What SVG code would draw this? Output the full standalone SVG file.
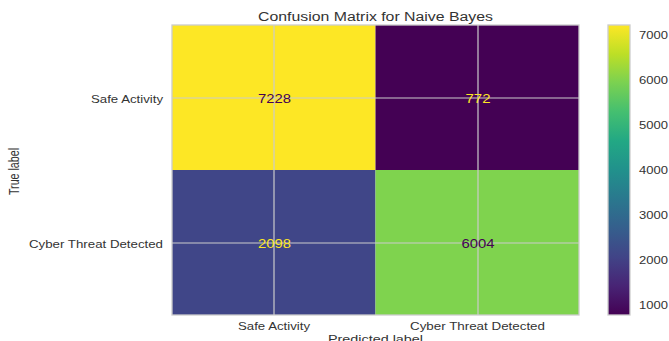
<svg xmlns="http://www.w3.org/2000/svg" width="669" height="341" viewBox="0 0 669 341">
  <style>
    text { font-family: "Liberation Sans", Arial, sans-serif; fill: #333333; }
    .tick { font-size: 10.5px; }
    .axis { font-size: 11.5px; }
    .title { font-size: 12.5px; }
    .val { font-size: 12.5px; text-anchor: middle; }
    .dark { fill: #440154; }
    .light { fill: #fde725; }
    .grid { stroke: #cccccc; stroke-width: 1.2; }
    .frame { fill: none; stroke: #cccccc; stroke-width: 1.3; }
  </style>
  <defs>
    <linearGradient id="viridis" x1="0" y1="1" x2="0" y2="0">
      <stop offset="0" stop-color="#440154"/>
      <stop offset="0.1" stop-color="#482475"/>
      <stop offset="0.2" stop-color="#414487"/>
      <stop offset="0.3" stop-color="#355f8d"/>
      <stop offset="0.4" stop-color="#2a788e"/>
      <stop offset="0.5" stop-color="#21918c"/>
      <stop offset="0.6" stop-color="#22a884"/>
      <stop offset="0.7" stop-color="#44bf70"/>
      <stop offset="0.8" stop-color="#7ad151"/>
      <stop offset="0.9" stop-color="#bddf26"/>
      <stop offset="1" stop-color="#fde725"/>
    </linearGradient>
  </defs>

  <rect width="669" height="341" fill="#ffffff"/>

  <!-- title -->
  <text class="title" x="375.5" y="21" text-anchor="middle" textLength="235" lengthAdjust="spacingAndGlyphs">Confusion Matrix for Naive Bayes</text>

  <!-- matrix cells -->
  <g id="cell-tn">
    <rect x="172" y="25" width="203.5" height="145" fill="#fde725"/>
  </g>
  <g id="cell-fp">
    <rect x="375.5" y="25" width="203.5" height="145" fill="#440154"/>
  </g>
  <g id="cell-fn">
    <rect x="172" y="170" width="203.5" height="145" fill="#404688"/>
  </g>
  <g id="cell-tp">
    <rect x="375.5" y="170" width="203.5" height="145" fill="#7fd34e"/>
  </g>

  <!-- grid lines -->
  <g id="grid">
    <line class="grid" x1="274" y1="25" x2="274" y2="315"/>
    <line class="grid" x1="478" y1="25" x2="478" y2="315"/>
    <line class="grid" x1="172" y1="98" x2="579" y2="98"/>
    <line class="grid" x1="172" y1="243" x2="579" y2="243"/>
  </g>
  <rect class="frame" x="172" y="25" width="407" height="290"/>

  <!-- cell values -->
  <g id="values">
    <text class="val dark" x="274.5" y="102.5" textLength="33" lengthAdjust="spacingAndGlyphs">7228</text>
    <text class="val light" x="478" y="102.5" textLength="25" lengthAdjust="spacingAndGlyphs">772</text>
    <text class="val light" x="274.5" y="247.5" textLength="33" lengthAdjust="spacingAndGlyphs">2098</text>
    <text class="val dark" x="478" y="247.5" textLength="33" lengthAdjust="spacingAndGlyphs">6004</text>
  </g>

  <!-- y axis -->
  <text class="tick" x="163" y="102.5" text-anchor="end" textLength="72" lengthAdjust="spacingAndGlyphs">Safe Activity</text>
  <text class="tick" x="163" y="247.5" text-anchor="end" textLength="134" lengthAdjust="spacingAndGlyphs">Cyber Threat Detected</text>
  <text class="axis" transform="translate(18.5,171.5) scale(1.25,1) rotate(-90)" text-anchor="middle" textLength="47" lengthAdjust="spacingAndGlyphs">True label</text>

  <!-- x axis -->
  <text class="tick" x="274" y="330" text-anchor="middle" textLength="72" lengthAdjust="spacingAndGlyphs">Safe Activity</text>
  <text class="tick" x="477.5" y="330" text-anchor="middle" textLength="135" lengthAdjust="spacingAndGlyphs">Cyber Threat Detected</text>
  <text class="axis" x="375.5" y="343" text-anchor="middle" textLength="95" lengthAdjust="spacingAndGlyphs">Predicted label</text>

  <!-- colour bar -->
  <g id="colorbar">
    <rect x="608" y="25" width="22" height="290" fill="url(#viridis)"/>
    <rect class="frame" x="608" y="25" width="22" height="290"/>
    <text class="tick" x="639" y="39" textLength="29" lengthAdjust="spacingAndGlyphs">7000</text>
    <text class="tick" x="639" y="84" textLength="29" lengthAdjust="spacingAndGlyphs">6000</text>
    <text class="tick" x="639" y="129" textLength="29" lengthAdjust="spacingAndGlyphs">5000</text>
    <text class="tick" x="639" y="174" textLength="29" lengthAdjust="spacingAndGlyphs">4000</text>
    <text class="tick" x="639" y="218.5" textLength="29" lengthAdjust="spacingAndGlyphs">3000</text>
    <text class="tick" x="639" y="263.5" textLength="29" lengthAdjust="spacingAndGlyphs">2000</text>
    <text class="tick" x="639" y="308.5" textLength="29" lengthAdjust="spacingAndGlyphs">1000</text>
  </g>
</svg>
